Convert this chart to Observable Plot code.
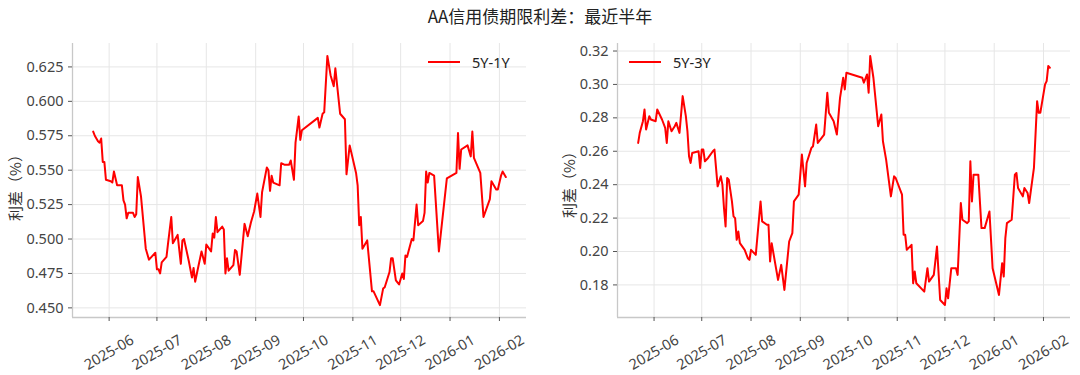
<!DOCTYPE html>
<html><head><meta charset="utf-8">
<script src="https://cdn.jsdelivr.net/npm/d3@7"></script>
<script src="https://cdn.jsdelivr.net/npm/@observablehq/plot@0.6"></script>
<style>
body{margin:0;background:#fff;font-family:"Noto Sans","Noto Sans CJK SC",sans-serif;}
#wrap{position:relative;width:1080px;height:375px;overflow:hidden;background:#fff;}
#title{position:absolute;top:4px;left:0;width:1080px;text-align:center;font-size:17px;color:#222;line-height:24px;font-family:"Noto Sans CJK SC",sans-serif;}
.chart{position:absolute;top:30px;}
.legend{position:absolute;top:52px;height:20px;font-size:14.5px;color:#222;display:flex;align-items:center;white-space:nowrap;}
.legend .sw{display:inline-block;width:32px;height:2px;background:#ff0000;margin-right:12px;}
.ylab{position:absolute;font-size:15px;color:#333;white-space:nowrap;transform:translate(-50%,-50%) rotate(-90deg);font-family:"Noto Sans CJK SC",sans-serif;}
</style></head><body>
<div id="wrap">
  <div id="title">AA信用债期限利差：最近半年</div>
  <div id="c1" class="chart" style="left:0px"></div>
  <div id="c2" class="chart" style="left:540px"></div>
  <div class="legend" style="left:428px"><span class="sw"></span><span id="lg1"></span></div>
  <div class="legend" style="left:629px"><span class="sw"></span><span id="lg2"></span></div>
  <div class="ylab" style="left:14px;top:184px">利差（%）</div>
  <div class="ylab" style="left:568px;top:181px">利差（%）</div>
</div>
<script>
const seriesNames = ["5Y-1Y", "5Y-3Y"];
const monthTicks = ["2025-06-01","2025-07-01","2025-08-01","2025-09-01","2025-10-01","2025-11-01","2025-12-01","2026-01-01","2026-02-01"];
const yTicks1 = [0.450,0.475,0.500,0.525,0.550,0.575,0.600,0.625];
const yTicks2 = [0.18,0.20,0.22,0.24,0.26,0.28,0.30,0.32];

const dates51 = ["2025-05-22","2025-05-23","2025-05-25","2025-05-26","2025-05-27","2025-05-28","2025-05-29","2025-05-30","2025-06-02","2025-06-03","2025-06-04","2025-06-06","2025-06-09","2025-06-10","2025-06-11","2025-06-12","2025-06-13","2025-06-16","2025-06-17","2025-06-18","2025-06-19","2025-06-21","2025-06-24","2025-06-26","2025-06-30","2025-07-01","2025-07-02","2025-07-03","2025-07-04","2025-07-07","2025-07-08","2025-07-10","2025-07-11","2025-07-14","2025-07-16","2025-07-17","2025-07-18","2025-07-21","2025-07-23","2025-07-24","2025-07-25","2025-07-27","2025-07-29","2025-07-31","2025-08-01","2025-08-04","2025-08-05","2025-08-06","2025-08-07","2025-08-08","2025-08-11","2025-08-12","2025-08-13","2025-08-14","2025-08-15","2025-08-18","2025-08-19","2025-08-20","2025-08-22","2025-08-25","2025-08-27","2025-08-29","2025-08-31","2025-09-02","2025-09-04","2025-09-05","2025-09-08","2025-09-09","2025-09-10","2025-09-11","2025-09-12","2025-09-16","2025-09-17","2025-09-19","2025-09-22","2025-09-23","2025-09-24","2025-09-25","2025-09-26","2025-09-28","2025-09-29","2025-09-30","2025-10-10","2025-10-11","2025-10-13","2025-10-14","2025-10-16","2025-10-18","2025-10-20","2025-10-21","2025-10-24","2025-10-27","2025-10-28","2025-10-30","2025-11-03","2025-11-04","2025-11-05","2025-11-06","2025-11-07","2025-11-10","2025-11-13","2025-11-14","2025-11-18","2025-11-20","2025-11-21","2025-11-24","2025-11-25","2025-11-26","2025-11-28","2025-11-30","2025-12-02","2025-12-03","2025-12-04","2025-12-05","2025-12-08","2025-12-09","2025-12-11","2025-12-12","2025-12-15","2025-12-16","2025-12-17","2025-12-18","2025-12-19","2025-12-22","2025-12-25","2025-12-30","2026-01-05","2026-01-06","2026-01-07","2026-01-08","2026-01-12","2026-01-14","2026-01-15","2026-01-16","2026-01-20","2026-01-22","2026-01-26","2026-01-27","2026-01-30","2026-01-31","2026-02-02","2026-02-03","2026-02-04","2026-02-05"];
const values51 = [0.578,0.575,0.571,0.570,0.573,0.556,0.556,0.543,0.542,0.541,0.549,0.539,0.539,0.528,0.525,0.515,0.519,0.519,0.516,0.518,0.545,0.531,0.493,0.485,0.490,0.478,0.478,0.475,0.483,0.487,0.497,0.516,0.497,0.503,0.482,0.499,0.500,0.484,0.472,0.479,0.469,0.480,0.491,0.482,0.496,0.491,0.504,0.501,0.516,0.505,0.509,0.507,0.475,0.486,0.477,0.481,0.492,0.491,0.474,0.511,0.502,0.512,0.520,0.533,0.516,0.534,0.552,0.550,0.535,0.546,0.541,0.539,0.555,0.554,0.554,0.557,0.550,0.543,0.570,0.589,0.572,0.579,0.588,0.581,0.591,0.592,0.633,0.619,0.611,0.624,0.591,0.587,0.547,0.568,0.548,0.539,0.510,0.516,0.493,0.499,0.462,0.462,0.452,0.464,0.465,0.476,0.486,0.486,0.470,0.467,0.475,0.471,0.488,0.487,0.500,0.499,0.525,0.510,0.513,0.519,0.549,0.541,0.548,0.546,0.491,0.544,0.548,0.577,0.551,0.565,0.568,0.560,0.578,0.559,0.548,0.516,0.529,0.542,0.536,0.536,0.546,0.549,0.547,0.545];

const dates53 = ["2025-05-22","2025-05-23","2025-05-25","2025-05-26","2025-05-27","2025-05-29","2025-05-30","2025-06-02","2025-06-03","2025-06-06","2025-06-08","2025-06-09","2025-06-10","2025-06-12","2025-06-14","2025-06-15","2025-06-17","2025-06-19","2025-06-21","2025-06-22","2025-06-23","2025-06-24","2025-06-25","2025-06-29","2025-06-30","2025-07-01","2025-07-02","2025-07-03","2025-07-05","2025-07-08","2025-07-09","2025-07-11","2025-07-13","2025-07-14","2025-07-15","2025-07-16","2025-07-17","2025-07-18","2025-07-20","2025-07-21","2025-07-22","2025-07-23","2025-07-24","2025-07-25","2025-07-28","2025-07-30","2025-07-31","2025-08-01","2025-08-04","2025-08-07","2025-08-08","2025-08-11","2025-08-12","2025-08-13","2025-08-14","2025-08-18","2025-08-20","2025-08-22","2025-08-25","2025-08-27","2025-08-28","2025-08-31","2025-09-02","2025-09-04","2025-09-05","2025-09-08","2025-09-09","2025-09-11","2025-09-12","2025-09-16","2025-09-18","2025-09-19","2025-09-22","2025-09-24","2025-09-26","2025-09-28","2025-09-29","2025-09-30","2025-10-10","2025-10-11","2025-10-13","2025-10-14","2025-10-15","2025-10-17","2025-10-20","2025-10-22","2025-10-23","2025-10-25","2025-10-28","2025-10-30","2025-10-31","2025-11-04","2025-11-05","2025-11-06","2025-11-07","2025-11-10","2025-11-11","2025-11-12","2025-11-13","2025-11-18","2025-11-20","2025-11-21","2025-11-24","2025-11-26","2025-11-27","2025-11-28","2025-12-01","2025-12-02","2025-12-03","2025-12-05","2025-12-08","2025-12-09","2025-12-11","2025-12-12","2025-12-15","2025-12-16","2025-12-17","2025-12-18","2025-12-19","2025-12-22","2025-12-24","2025-12-26","2025-12-29","2025-12-31","2026-01-04","2026-01-06","2026-01-07","2026-01-08","2026-01-09","2026-01-12","2026-01-14","2026-01-15","2026-01-16","2026-01-19","2026-01-20","2026-01-22","2026-01-23","2026-01-26","2026-01-28","2026-01-29","2026-01-30","2026-02-02","2026-02-03","2026-02-04","2026-02-05"];
const values53 = [0.265,0.271,0.278,0.285,0.273,0.281,0.279,0.278,0.285,0.279,0.274,0.265,0.278,0.272,0.275,0.277,0.271,0.293,0.281,0.272,0.257,0.253,0.259,0.260,0.250,0.261,0.261,0.254,0.256,0.260,0.261,0.239,0.245,0.240,0.226,0.215,0.244,0.243,0.230,0.221,0.220,0.207,0.212,0.205,0.201,0.196,0.195,0.201,0.198,0.230,0.218,0.216,0.216,0.194,0.205,0.183,0.192,0.177,0.206,0.211,0.230,0.234,0.258,0.239,0.253,0.262,0.263,0.276,0.265,0.270,0.295,0.283,0.278,0.270,0.292,0.304,0.297,0.307,0.304,0.301,0.306,0.295,0.317,0.304,0.275,0.282,0.266,0.255,0.233,0.245,0.244,0.234,0.210,0.210,0.201,0.204,0.181,0.188,0.181,0.176,0.190,0.182,0.186,0.203,0.187,0.171,0.168,0.178,0.172,0.190,0.190,0.186,0.229,0.219,0.217,0.218,0.254,0.230,0.246,0.246,0.214,0.214,0.224,0.190,0.174,0.193,0.185,0.208,0.217,0.219,0.246,0.247,0.238,0.233,0.238,0.235,0.229,0.250,0.290,0.283,0.283,0.300,0.302,0.311,0.310];

document.getElementById("lg1").textContent = seriesNames[0];
document.getElementById("lg2").textContent = seriesNames[1];

const xDomain = [new Date("2025-05-09"), new Date("2026-02-18")];
const ticks = monthTicks.map(d => new Date(d));
const fmtMonth = d3.utcFormat("%Y-%m");

function makeChart(dates, values, yTicks, yDomain, fmt, mLeft, mRight) {
  const rows = dates.map((d, i) => ({date: new Date(d), v: values[i]}));
  return Plot.plot({
    width: 540,
    height: 345,
    marginLeft: mLeft,
    marginRight: mRight,
    marginTop: 13,
    marginBottom: 58,
    style: {fontSize: "14.5px", fontFamily: '"Noto Sans","Noto Sans CJK SC",sans-serif', color: "#444", background: "white", overflow: "visible"},
    x: {type: "utc", domain: xDomain},
    y: {domain: yDomain},
    marks: [
      Plot.gridX(ticks, {stroke: "#e6e6e6", strokeOpacity: 1, strokeWidth: 1}),
      Plot.gridY(yTicks, {stroke: "#e6e6e6", strokeOpacity: 1, strokeWidth: 1}),
      Plot.ruleX([xDomain[0]], {stroke: "#c8c8c8", strokeWidth: 1.3}),
      Plot.ruleY([yDomain[0]], {stroke: "#c8c8c8", strokeWidth: 1.3}),
      Plot.axisY(yTicks, {tickFormat: fmt, tickSize: 4, tickPadding: 5, label: null, stroke: "#555", fontSize: 14.5}),
      Plot.axisX(ticks, {tickFormat: fmtMonth, tickSize: 4, tickRotate: -30, textAnchor: "middle", lineAnchor: "middle", tickPadding: 31, label: null, stroke: "#555", fontSize: 14.5}),
      Plot.line(rows, {x: "date", y: "v", stroke: "#ff0000", strokeWidth: 2, strokeLinejoin: "round"})
    ]
  });
}

document.getElementById("c1").append(makeChart(dates51, values51, yTicks1, [0.443, 0.642], d => d.toFixed(3), 72, 14));
document.getElementById("c2").append(makeChart(dates53, values53, yTicks2, [0.1605, 0.3245], d => d.toFixed(2), 77, 10));
</script>
</body></html>
